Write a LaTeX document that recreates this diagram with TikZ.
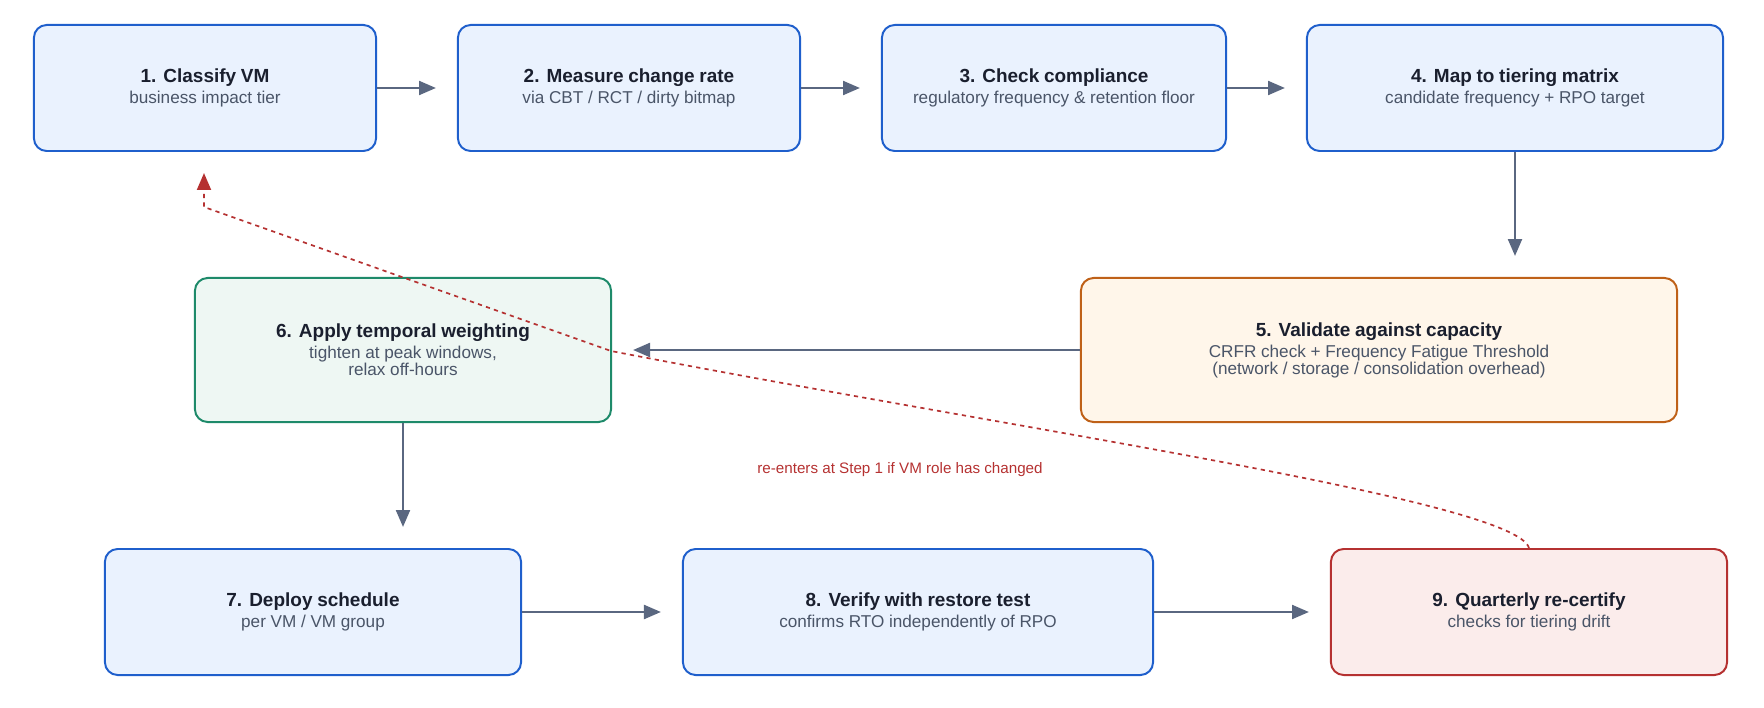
\documentclass[tikz,border=0pt]{standalone}
\usepackage{fontspec}
\setmainfont{Liberation Sans}
\usetikzlibrary{positioning,arrows.meta}
\definecolor{bluedk}{HTML}{1F5FCC}
\definecolor{bluelt}{HTML}{EAF2FE}
\definecolor{greendk}{HTML}{1E8A6A}
\definecolor{greenlt}{HTML}{EEF7F3}
\definecolor{orangedk}{HTML}{BF6118}
\definecolor{orangelt}{HTML}{FFF6EA}
\definecolor{reddk}{HTML}{B53131}
\definecolor{redlt}{HTML}{FBECEB}
\definecolor{flowc}{HTML}{5A6780}
\definecolor{ttlc}{HTML}{1A1F2E}
\definecolor{subc}{HTML}{4A5568}
\newcommand{\ttl}[1]{{\fontsize{13.5}{21}\selectfont\bfseries\color{ttlc}#1}}
\newcommand{\sub}[1]{{\fontsize{12.2}{21}\selectfont\color{subc}#1}}
\tikzset{step/.style = {draw, rounded corners=9pt, line width=1.4pt, align=center,
  minimum width=#1, text width=#1-0.4cm, inner sep=2pt}}
\tikzset{bluebox/.style = {draw=bluedk, fill=bluelt}}
\tikzset{greenbox/.style = {draw=greendk, fill=greenlt}}
\tikzset{orangebox/.style = {draw=orangedk, fill=orangelt}}
\tikzset{redbox/.style = {draw=reddk, fill=redlt}}
\tikzset{flow/.style = {-{Triangle[length=12pt,width=10pt]}, draw=flowc, line width=1.4pt, shorten >=15pt}}

\begin{document}
\begin{tikzpicture}[x=0.025cm, y=-0.025cm]
  \useasboundingbox (0,0) rectangle (1764,708);
  \node [step=8.55cm, bluebox, minimum height=3.15cm] (s1) at (205,88) {\ttl{1. Classify VM}\\[3pt] \sub{business impact tier}};
  \node [step=8.55cm, bluebox, minimum height=3.15cm] (s2) at (629,88) {\ttl{2. Measure change rate}\\[3pt] \sub{via CBT / RCT / dirty bitmap}};
  \node [step=8.6cm, bluebox, minimum height=3.15cm] (s3) at (1054,88) {\ttl{3. Check compliance}\\[3pt] \sub{regulatory frequency \& retention floor}};
  \node [step=10.4cm, bluebox, minimum height=3.15cm] (s4) at (1515,88) {\ttl{4. Map to tiering matrix}\\[3pt] \sub{candidate frequency + RPO target}};
  \node [step=14.9cm, orangebox, minimum height=3.6cm] (s5) at (1379,350) {\ttl{5. Validate against capacity}\\[3pt] \sub{CRFR check + Frequency Fatigue Threshold}\\ \sub{(network / storage / consolidation overhead)}};
  \node [step=10.4cm, greenbox, minimum height=3.6cm] (s6) at (403,350) {\ttl{6. Apply temporal weighting}\\[3pt] \sub{tighten at peak windows,}\\ \sub{relax off-hours}};
  \node [step=10.4cm, bluebox, minimum height=3.15cm] (s7) at (313,612) {\ttl{7. Deploy schedule}\\[3pt] \sub{per VM / VM group}};
  \node [step=11.75cm, bluebox, minimum height=3.15cm] (s8) at (918,612) {\ttl{8. Verify with restore test}\\[3pt] \sub{confirms RTO independently of RPO}};
  \node [step=9.9cm, redbox, minimum height=3.15cm] (s9) at (1529,612) {\ttl{9. Quarterly re-certify}\\[3pt] \sub{checks for tiering drift}};

  \draw [flow] (s1) -- (s2);
  \draw [flow] (s2) -- (s3);
  \draw [flow] (s3) -- (s4);
  \draw [flow] (s4.south) -- (s4.south |- s5.north);
  \draw [flow] (s5) -- (s6);
  \draw [flow] (s6.south) -- (s6.south |- s7.north);
  \draw [flow] (s7) -- (s8);
  \draw [flow] (s8) -- (s9);

  % loop back for re-certification
  \coordinate (kink) at (204,207);
  \draw [flow, draw=reddk, dashed, line width=1.2pt]
    (s9.north) .. controls (1515,500) and (1018,430) .. (611,351) -- (kink) -- (s1.south -| kink);
  \node [text=reddk, font=\fontsize{10.8}{13}\selectfont] (loop) at (900,470) {re-enters at Step 1 if VM role has changed};
\end{tikzpicture}
\end{document}
